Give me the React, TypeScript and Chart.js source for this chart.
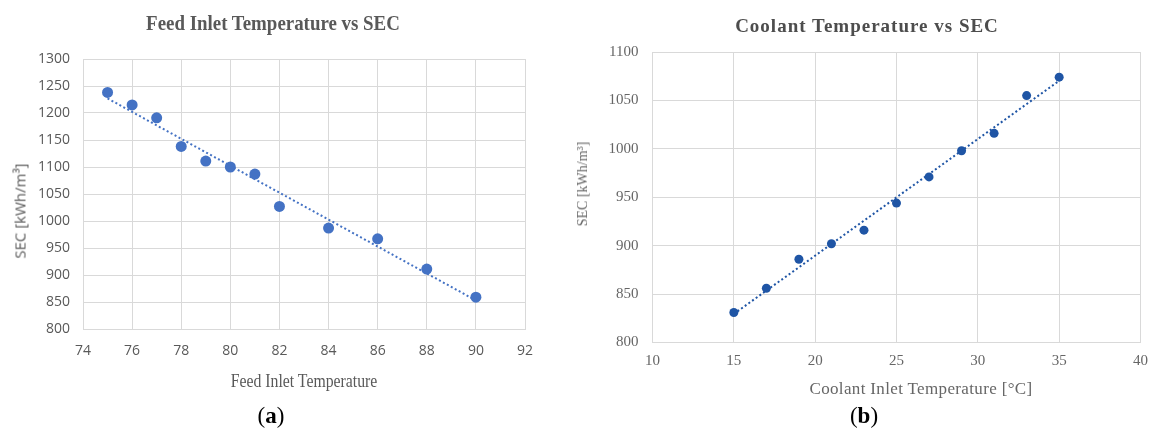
import React, { useEffect, useRef } from "react";
import { Chart, registerables } from "chart.js";

Chart.register(...registerables);

// ---- Data: Feed inlet temperature vs SEC (a) ----
const feedTemps = [75, 76, 77, 78, 79, 80, 81, 82, 84, 86, 88, 90];
const feedSEC = [1238, 1215, 1191, 1138, 1111, 1100, 1087, 1027, 987, 967, 911, 859];
const feedTrendX = [75, 90];
const feedTrendY = [1227, 853];
const feedXRange = [74, 92, 2];
const feedYRange = [800, 1300, 50];

// ---- Data: Coolant temperature vs SEC (b) ----
const coolantTemps = [15, 17, 19, 21, 23, 25, 27, 29, 31, 33, 35];
const coolantSEC = [831, 856, 886, 902, 916, 944, 971, 998, 1016, 1055, 1074];
const coolantTrendX = [15, 35];
const coolantTrendY = [829.5, 1070.3];
const coolantXRange = [10, 40, 5];
const coolantYRange = [800, 1100, 50];

type PanelCfg = {
  xs: number[];
  ys: number[];
  tx: number[];
  ty: number[];
  xr: number[];
  yr: number[];
  color: string;
  radius: number;
  width: number;
  height: number;
  plot: { left: number; right: number; top: number; bottom: number };
  tickFont: any;
  tickColor: string;
  xPad: number;
  yPad: number;
};

function Panel({ cfg, style }: { cfg: PanelCfg; style: React.CSSProperties }) {
  const ref = useRef<HTMLCanvasElement | null>(null);
  useEffect(() => {
    if (!ref.current) return;
    const gridColor = "#d9d9d9";
    const pts = cfg.xs.map((x, i) => ({ x, y: cfg.ys[i] }));
    const trend = cfg.tx.map((x, i) => ({ x, y: cfg.ty[i] }));
    const plain = (v: any) => String(v);
    const chart = new Chart(ref.current, {
      type: "scatter",
      data: {
        datasets: [
          {
            data: pts,
            backgroundColor: cfg.color,
            borderColor: cfg.color,
            pointRadius: cfg.radius,
            pointHoverRadius: cfg.radius,
            borderWidth: 0,
          },
          {
            data: trend,
            showLine: true,
            borderColor: cfg.color,
            borderWidth: 2,
            borderDash: [2, 2.5],
            pointRadius: 0,
            fill: false,
          } as any,
        ],
      },
      options: {
        responsive: false,
        animation: false,
        devicePixelRatio: 1,
        events: [],
        plugins: { legend: { display: false }, tooltip: { enabled: false }, title: { display: false } },
        layout: {
          padding: { left: 0, right: cfg.width - cfg.plot.right, top: cfg.plot.top, bottom: 0 },
        },
        scales: {
          x: {
            type: "linear",
            min: cfg.xr[0],
            max: cfg.xr[1],
            ticks: {
              stepSize: cfg.xr[2],
              font: cfg.tickFont,
              color: cfg.tickColor,
              padding: cfg.xPad,
              maxRotation: 0,
              autoSkip: false,
              callback: plain,
            },
            grid: { color: gridColor, lineWidth: 1, drawTicks: false },
            border: { color: gridColor, width: 1 },
            afterFit: (s: any) => {
              s.height = cfg.height - cfg.plot.bottom;
            },
          },
          y: {
            type: "linear",
            min: cfg.yr[0],
            max: cfg.yr[1],
            ticks: {
              stepSize: cfg.yr[2],
              font: cfg.tickFont,
              color: cfg.tickColor,
              padding: cfg.yPad,
              autoSkip: false,
              callback: plain,
            },
            grid: { color: gridColor, lineWidth: 1, drawTicks: false },
            border: { color: gridColor, width: 1 },
            afterFit: (s: any) => {
              s.width = cfg.plot.left;
            },
          },
        },
      },
    });
    return () => chart.destroy();
  }, [cfg]);
  return <canvas ref={ref} width={cfg.width} height={cfg.height} style={{ position: "absolute", ...style }} />;
}

const leftCfg: PanelCfg = {
  xs: feedTemps,
  ys: feedSEC,
  tx: feedTrendX,
  ty: feedTrendY,
  xr: feedXRange,
  yr: feedYRange,
  color: "#4472C4",
  radius: 5.5,
  width: 579,
  height: 400,
  plot: { left: 83, right: 525, top: 59, bottom: 329 },
  tickFont: { family: "'Open Sans', 'Noto Sans', sans-serif", size: 14 },
  tickColor: "#595959",
  xPad: 14,
  yPad: 13,
};

const rightCfg: PanelCfg = {
  xs: coolantTemps,
  ys: coolantSEC,
  tx: coolantTrendX,
  ty: coolantTrendY,
  xr: coolantXRange,
  yr: coolantYRange,
  color: "#1F55A5",
  radius: 4.5,
  width: 579,
  height: 400,
  plot: { left: 73.5, right: 567, top: 52, bottom: 342.5 },
  tickFont: { family: "'Liberation Serif', serif", size: 15 },
  tickColor: "#666666",
  xPad: 10,
  yPad: 14,
};

const textBase: React.CSSProperties = {
  position: "absolute",
  whiteSpace: "nowrap",
  lineHeight: 1,
};

function Label({
  x,
  y,
  text,
  font,
  size,
  color,
  weight = 400,
  scaleX = 1,
  rotate = 0,
  spacing = 0,
}: {
  x: number;
  y: number;
  text: React.ReactNode;
  font: string;
  size: number;
  color: string;
  weight?: number;
  scaleX?: number;
  rotate?: number;
  spacing?: number;
}) {
  return (
    <div
      style={{
        ...textBase,
        left: x,
        top: y,
        fontFamily: font,
        fontSize: size,
        fontWeight: weight,
        color,
        letterSpacing: spacing,
        transform: `translate(-50%, -50%) rotate(${rotate}deg) scaleX(${scaleX})`,
      }}
    >
      {text}
    </div>
  );
}

export default function App() {
  useEffect(() => {
    document.body.style.margin = "0";
  }, []);
  const serif = "'Liberation Serif', 'Times New Roman', serif";
  const sans = "'Open Sans', 'Noto Sans', sans-serif";
  return (
    <div style={{ position: "absolute", left: 0, top: 0, width: 1158, height: 430, background: "#fff", overflow: "hidden" }}>
      <Panel cfg={leftCfg} style={{ left: 0, top: 0 }} />
      <Panel cfg={rightCfg} style={{ left: 579, top: 0 }} />

      <Label x={273} y={23} text="Feed Inlet Temperature vs SEC" font={serif} size={21} weight={700} color="#595959" scaleX={0.9} />
      <Label x={304} y={380} text="Feed Inlet Temperature" font={serif} size={19} color="#595959" scaleX={0.83} />
      <Label x={20} y={211} text="SEC [kWh/m³]" font={sans} size={15} color="#595959" rotate={-90} />

      <Label x={867} y={25} text="Coolant Temperature vs SEC" font={serif} size={19} weight={700} color="#4d4d4d" spacing={1} />
      <Label x={921} y={388} text="Coolant Inlet Temperature [°C]" font={serif} size={17} color="#666666" spacing={0.35} />
      <Label x={583} y={184} text="SEC [kWh/m³]" font={serif} size={14} color="#666666" rotate={-90} />

      <Label x={271} y={415} text={<span>(<b>a</b>)</span>} font={serif} size={23} color="#000" />
      <Label x={864} y={415} text={<span>(<b>b</b>)</span>} font={serif} size={23} color="#000" />
    </div>
  );
}
